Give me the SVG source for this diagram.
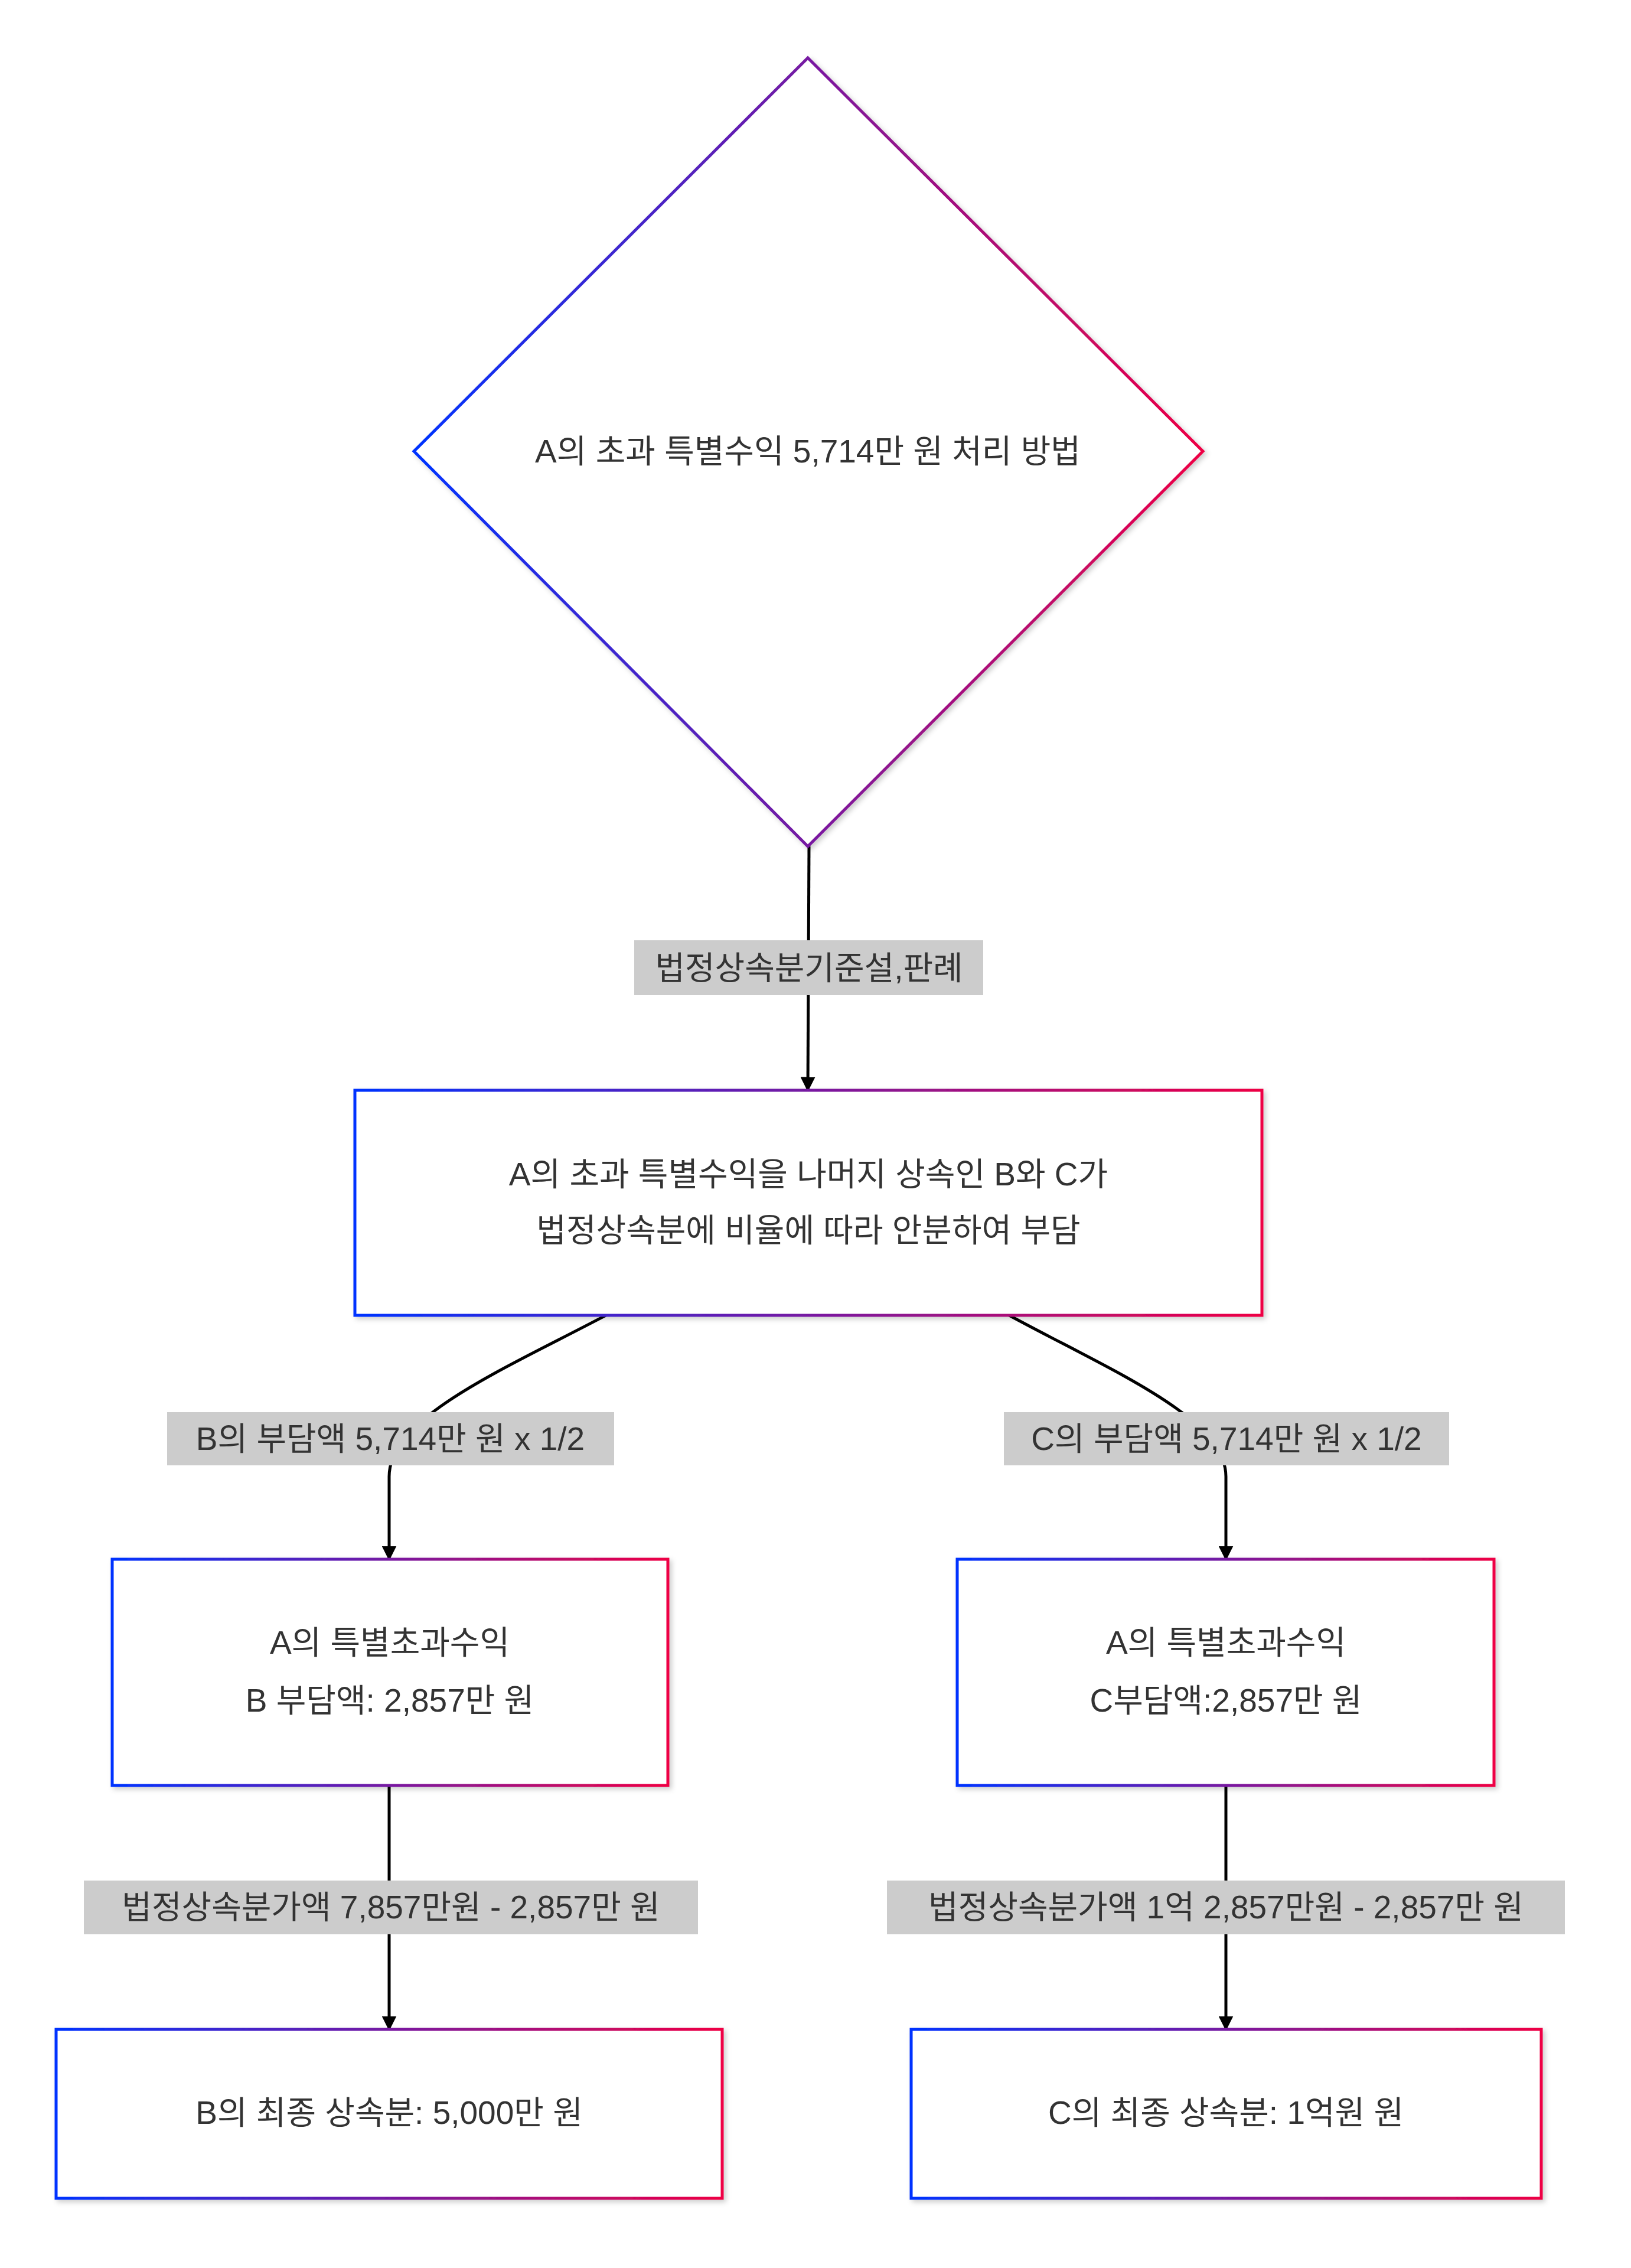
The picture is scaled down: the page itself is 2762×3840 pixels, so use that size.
<svg xmlns="http://www.w3.org/2000/svg" width="2762" height="3840" viewBox="0 0 2762 3840">
<style>
.n{fill:#fff;stroke:url(#g);stroke-width:5}
.t{font-family:"Liberation Sans","Noto Sans CJK KR",sans-serif;font-size:55px;fill:#333;text-anchor:middle;dominant-baseline:central}
.e{fill:none;stroke:#000;stroke-width:5;marker-end:url(#a)}
.lb{fill:#ccc}
</style>
<defs>
<linearGradient id="g" x1="0" y1="0" x2="1" y2="0"><stop offset="0" stop-color="#0033ff"/><stop offset="1" stop-color="#ee0044"/></linearGradient>
<marker id="a" viewBox="0 0 10 10" refX="9" refY="5" markerWidth="5" markerHeight="5" orient="auto"><path d="M0,0L10,5L0,10z" fill="#000"/></marker>
<filter id="s"><feDropShadow dx="4" dy="4" stdDeviation="4" flood-opacity="0.2"/></filter>
</defs>
<g id="edges">
<path class="e" d="M1370,1433L1368,1846"/>
<path class="e" d="M1026,2227C850,2320 659,2400 659,2500L659,2640"/>
<path class="e" d="M1709,2227C1880,2320 2076,2400 2076,2500L2076,2640"/>
<path class="e" d="M659,3023L659,3436"/>
<path class="e" d="M2076,3023L2076,3436"/>
</g>
<g id="labels">
<rect class="lb" x="1074" y="1592" width="591" height="93"/><text class="t" x="1370" y="1639">법정상속분기준설,판례</text>
<rect class="lb" x="283" y="2391" width="757" height="90"/><text class="t" x="661" y="2436">B의 부담액 5,714만 원 x 1/2</text>
<rect class="lb" x="1700" y="2391" width="754" height="90"/><text class="t" x="2077" y="2436">C의 부담액 5,714만 원 x 1/2</text>
<rect class="lb" x="142" y="3184" width="1040" height="91"/><text class="t" x="662" y="3229">법정상속분가액 7,857만원 - 2,857만 원</text>
<rect class="lb" x="1502" y="3184" width="1148" height="91"/><text class="t" x="2076" y="3229">법정상속분가액 1억 2,857만원 - 2,857만 원</text>
</g>
<g id="n0"><path class="n" filter="url(#s)" d="M1368,98L2037,764L1368,1433L701,764Z"/><text class="t" x="1368" y="764">A의 초과 특별수익 5,714만 원 처리 방법</text></g>
<g id="n1"><rect class="n" filter="url(#s)" x="601" y="1846" width="1536" height="381"/><text class="t" x="1369" y="1988">A의 초과 특별수익을 나머지 상속인 B와 C가</text><text class="t" x="1369" y="2083">법정상속분에 비율에 따라 안분하여 부담</text></g>
<g id="n2"><rect class="n" filter="url(#s)" x="190" y="2640" width="941" height="383"/><text class="t" x="660" y="2781">A의 특별초과수익</text><text class="t" x="660" y="2879">B 부담액: 2,857만 원</text></g>
<g id="n3"><rect class="n" filter="url(#s)" x="1621" y="2640" width="909" height="383"/><text class="t" x="2076" y="2781">A의 특별초과수익</text><text class="t" x="2076" y="2879">C부담액:2,857만 원</text></g>
<g id="n4"><rect class="n" filter="url(#s)" x="95" y="3436" width="1128" height="286"/><text class="t" x="659" y="3577">B의 최종 상속분: 5,000만 원</text></g>
<g id="n5"><rect class="n" filter="url(#s)" x="1543" y="3436" width="1067" height="286"/><text class="t" x="2076" y="3577">C의 최종 상속분: 1억원 원</text></g>
</svg>
